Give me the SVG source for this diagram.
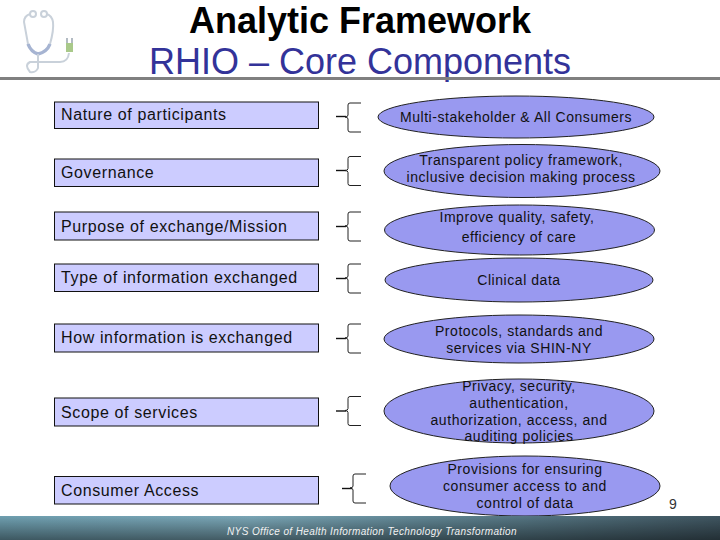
<svg xmlns="http://www.w3.org/2000/svg" width="720" height="540" viewBox="0 0 720 540">
<defs>
<linearGradient id="foot" x1="0" y1="0" x2="1" y2="0"><stop offset="0" stop-color="#6f9fb0"/><stop offset="0.35" stop-color="#7aa6b6"/><stop offset="0.6" stop-color="#5f8492"/><stop offset="1" stop-color="#3f5560"/></linearGradient>
<linearGradient id="shade" x1="0" y1="0" x2="0" y2="1"><stop offset="0" stop-color="#000" stop-opacity="0"/><stop offset="1" stop-color="#000" stop-opacity="0.45"/></linearGradient>
<path id="brace" d="M17,-14.500 H6 Q4,-14.500 4,-12.500 V-2.500 Q4,-0.500 1,-0.500 Q4,-0.500 4,1.500 V12.500 Q4,14.500 6,14.500 H17" fill="none" stroke="#222" stroke-width="1"/>
</defs>
<style>
.box{fill:#ccccff;stroke:#111;stroke-width:1}
.el{fill:#9999f0;stroke:#222;stroke-width:1}
.lab{font:16px "Liberation Sans",Arial,sans-serif;fill:#111;letter-spacing:.62px}
.t{font:14px "Liberation Sans",Arial,sans-serif;fill:#111;text-anchor:middle;letter-spacing:.55px}
.stem{stroke:#111;stroke-width:1.4;fill:none}
</style>
<rect width="720" height="540" fill="#fff"/>
<g id="logo" fill="none" stroke="#c9d1da" stroke-width="2">
<circle cx="33" cy="14" r="3"/><circle cx="44" cy="14" r="3"/>
<path d="M30,14 Q24,16 24,22 L28,44 Q31,52 38,54 Q47,52 50,44 Q54,30 53,22 Q52,16 47,14"/>
<path d="M28,44 Q31,52 38,54 Q47,52 50,44" stroke="#a6b4d2" stroke-width="3.400"/>
<path d="M38,54 V68 Q36,73 30,72 Q24,65 30,62 H60 Q68,62 69,53"/>
<rect x="66" y="43" width="7" height="9" fill="#a9c98a" stroke="none"/>
<path d="M67,38 V43 M72,38 V43" stroke="#a0aab4" stroke-width="1.600"/>
</g>
<g id="header">
<text x="360" y="32.800" font-family="Liberation Sans,Arial,sans-serif" font-size="36" font-weight="700" text-anchor="middle" fill="#000">Analytic Framework</text>
<text x="360" y="74" font-family="Liberation Sans,Arial,sans-serif" font-size="36" text-anchor="middle" fill="#333399">RHIO – Core Components</text>
<rect x="0" y="77" width="720" height="3" fill="#808080"/>
</g>
<g id="connectors">
<path class="stem" d="M336,116.500H346"/><use href="#brace" x="344" y="117.500"/>
<path class="stem" d="M336,170.500H346"/><use href="#brace" x="344" y="171"/>
<path class="stem" d="M336,226.500H346"/><use href="#brace" x="344" y="226.500"/>
<path class="stem" d="M336,278.500H346"/><use href="#brace" x="344" y="278.500"/>
<path class="stem" d="M336,338.500H346"/><use href="#brace" x="344" y="338.500"/>
<path class="stem" d="M336,411H346"/><use href="#brace" x="344" y="411"/>
<path class="stem" d="M342,488.500H352"/><use href="#brace" x="349" y="488.500"/>
</g>
<g id="n1"><rect class="box" x="54.500" y="102" width="264" height="26.500"/><text class="lab" x="61" y="119.500">Nature of participants</text></g>
<g id="n2"><rect class="box" x="54.500" y="159" width="264" height="27.500"/><text class="lab" x="61" y="177.500">Governance</text></g>
<g id="n3"><rect class="box" x="54.500" y="212" width="264" height="28"/><text class="lab" x="61" y="231.500">Purpose of exchange/Mission</text></g>
<g id="n4"><rect class="box" x="54.500" y="264" width="264" height="27.500"/><text class="lab" x="61" y="282.500">Type of information exchanged</text></g>
<g id="n5"><rect class="box" x="54.500" y="324" width="264" height="28"/><text class="lab" x="61" y="342.500">How information is exchanged</text></g>
<g id="n6"><rect class="box" x="54.500" y="398" width="264" height="28"/><text class="lab" x="61" y="417.500">Scope of services</text></g>
<g id="n7"><rect class="box" x="54.500" y="476.500" width="264" height="27.500"/><text class="lab" x="61" y="495.500">Consumer Access</text></g>
<g id="e1"><ellipse class="el" cx="516" cy="117" rx="138" ry="21"/><text class="t" x="516" y="121.500">Multi-stakeholder &amp; All Consumers</text></g>
<g id="e2"><ellipse class="el" cx="522" cy="171" rx="138" ry="26.500"/><text class="t" x="521" y="164.500">Transparent policy framework,</text><text class="t" x="521" y="182">inclusive decision making process</text></g>
<g id="e3"><ellipse class="el" cx="519.500" cy="230" rx="135" ry="25"/><text class="t" x="517" y="221.500">Improve quality, safety,</text><text class="t" x="519" y="241.500">efficiency of care</text></g>
<g id="e4"><ellipse class="el" cx="519" cy="280" rx="134" ry="22"/><text class="t" x="519" y="284.500">Clinical data</text></g>
<g id="e5"><ellipse class="el" cx="519" cy="339" rx="135" ry="24"/><text class="t" x="519" y="335.500">Protocols, standards and</text><text class="t" x="519" y="352.500">services via SHIN-NY</text></g>
<g id="e6"><ellipse class="el" cx="519" cy="411" rx="135" ry="32"/><text class="t" x="519" y="390.500">Privacy, security,</text><text class="t" x="519" y="407.500">authentication,</text><text class="t" x="519" y="424.500">authorization, access, and</text><text class="t" x="519" y="441">auditing policies</text></g>
<g id="e7"><ellipse class="el" cx="525" cy="486" rx="135" ry="30"/><text class="t" x="525" y="473.500">Provisions for ensuring</text><text class="t" x="525" y="490.500">consumer access to and</text><text class="t" x="525" y="507.500">control of data</text></g>
<g id="footer">
<rect x="0" y="516" width="720" height="24" fill="url(#foot)"/>
<rect x="0" y="516" width="720" height="24" fill="url(#shade)"/>
<text x="372" y="535" font-family="Liberation Sans,Arial,sans-serif" font-size="10" font-style="italic" fill="#f2f2f2" text-anchor="middle" letter-spacing=".38">NYS Office of Health Information Technology Transformation</text>
<text x="673" y="509" font-family="Liberation Sans,Arial,sans-serif" font-size="14" fill="#333" text-anchor="middle">9</text>
</g>
</svg>
